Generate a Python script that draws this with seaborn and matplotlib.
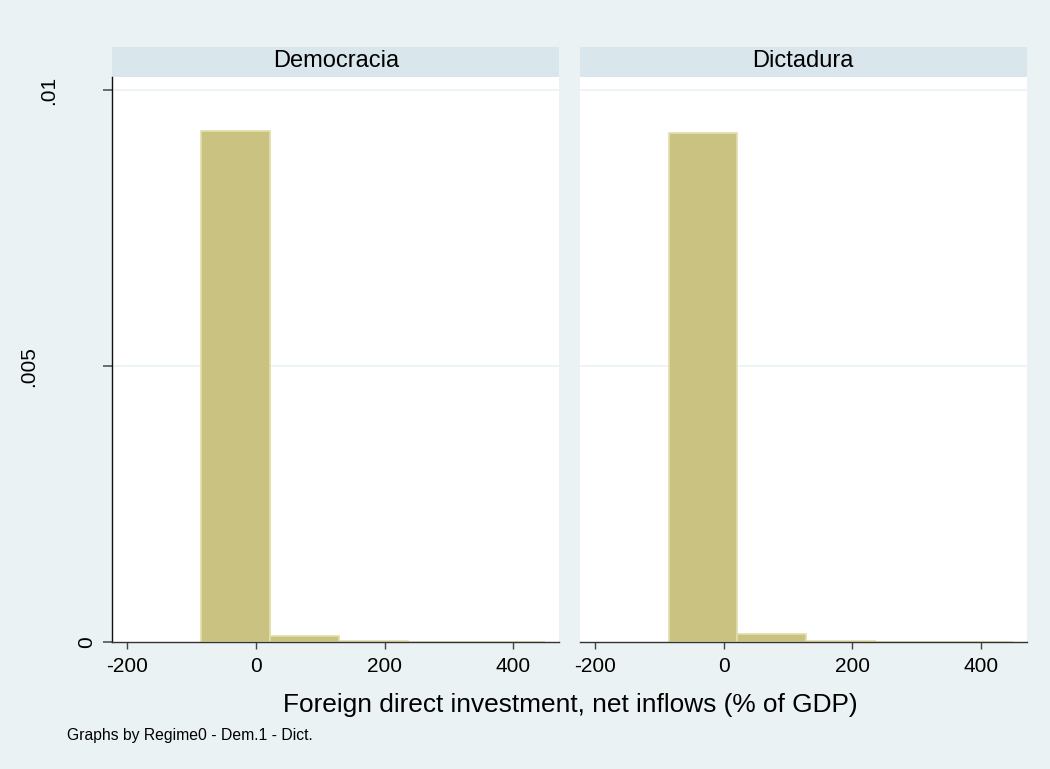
import numpy as np
import pandas as pd
import matplotlib
matplotlib.use("Agg")
import matplotlib.pyplot as plt
import matplotlib.transforms as mtransforms
import seaborn as sns
from matplotlib.patches import Rectangle

# datos (densidad por intervalo)
regimes = ["Democracia", "Dictadura"]
bin_edges = [-85.5, 21.6, 128.7, 235.8, 342.9, 450.0]
dens_democracia = [0.00926, 0.000112, 0.000012, 0.000008, 0.000008]
dens_dictadura = [0.00922, 0.000145, 0.000022, 0.0, 0.0]
xticks = [-200, 0, 200, 400]
yticks = [0, 0.005, 0.01]
ytick_labels = ["0", ".005", ".01"]
# centro horizontal (px) de cada etiqueta del eje y, como en Stata
ytick_label_px = [86.5, 29, 49]

mids = [(a + b) / 2 for a, b in zip(bin_edges[:-1], bin_edges[1:])]
df = pd.DataFrame({
    "regime": np.repeat(regimes, len(mids)),
    "mid": mids * 2,
    "density": dens_democracia + dens_dictadura,
})

bg = "#EAF2F3"
strip = "#D9E6EC"
sns.set_theme(style="white")
plt.rcParams["font.family"] = ["Liberation Sans", "DejaVu Sans"]
plt.rcParams["text.color"] = "black"
plt.rcParams["xtick.color"] = "#444444"
plt.rcParams["xtick.labelcolor"] = "black"

g = sns.FacetGrid(df, col="regime", col_order=regimes, sharex=True, sharey=True,
                  height=7.69, aspect=1050 / 769 / 2, despine=False)
g.map_dataframe(sns.histplot, x="mid", weights="density", bins=bin_edges,
                color="#C9C281", edgecolor="#E3DEAA", linewidth=1.2, alpha=1)
g.figure.set_size_inches(10.5, 7.69)
g.figure.patch.set_facecolor(bg)
g.figure.subplots_adjust(left=0.1067, right=0.978, bottom=0.165, top=0.8999, wspace=0.045)
g.set_titles("")

ax_w_px = 446.0
ax_h_px = 565.0
for i, ax in enumerate(g.axes.flat):
    ax.set_facecolor("white")
    ax.set_xlim(-224, 472)
    ax.set_ylim(0, 0.01024)
    ax.set_xlabel("")
    ax.set_ylabel("")
    for yv in [0.005, 0.01]:
        ax.axhline(yv, color=bg, lw=1.2, zorder=0)
    for s in ["top", "right"]:
        ax.spines[s].set_visible(False)
    ax.spines["bottom"].set_color("#333333")
    ax.spines["bottom"].set_linewidth(1.0)
    ax.set_xticks(xticks)
    ax.set_xticklabels([str(t) for t in xticks], fontsize=15)
    ax.tick_params(axis="x", bottom=True, length=5, width=1, pad=6)
    if i == 0:
        ax.spines["left"].set_color("#111111")
        ax.spines["left"].set_linewidth(1.0)
        ax.set_yticks(yticks)
        ax.set_yticklabels([])
        ax.tick_params(axis="y", left=True, length=6.5, width=1.2, color="#555555")
        trans = mtransforms.blended_transform_factory(ax.transAxes, ax.transData)
        for yv, lab, px in zip(yticks, ytick_labels, ytick_label_px):
            ax.text((px - 112) / ax_w_px, yv, lab, transform=trans, rotation=90,
                    ha="center", va="center", fontsize=15, clip_on=False)
    else:
        ax.spines["left"].set_visible(False)
        ax.tick_params(axis="y", left=False, labelleft=False)
    # franja del titulo
    ax.add_patch(Rectangle((0, 1.0), 1, 30 / ax_h_px, transform=ax.transAxes,
                           facecolor=strip, edgecolor="none", clip_on=False))
    ax.text(0.5, 1.0 + 10 / ax_h_px, regimes[i], transform=ax.transAxes,
            ha="center", va="baseline", fontsize=17)

g.figure.text(0.543, 0.083, "Foreign direct investment, net inflows (% of GDP)",
              ha="center", va="center", fontsize=18.9)
g.figure.text(0.064, 0.044, "Graphs by Regime0 - Dem.1 - Dict.",
              ha="left", va="center", fontsize=11.3)

g.figure.savefig("out.png", dpi=100, facecolor=bg)
